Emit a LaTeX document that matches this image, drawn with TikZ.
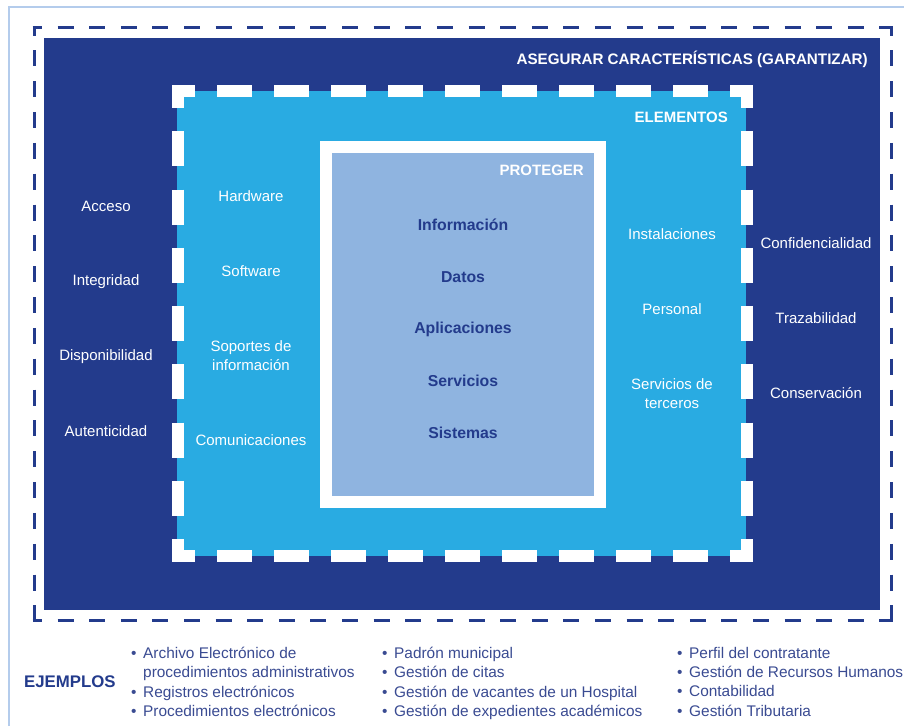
\documentclass[tikz,border=0pt]{standalone}
\usepackage{fontspec}
\setmainfont{Liberation Sans}
\definecolor{navy}{HTML}{233B8C}
\definecolor{sky}{HTML}{29ABE2}
\definecolor{pale}{HTML}{8FB4E0}
\definecolor{frameline}{HTML}{B4CCEC}
\definecolor{listtext}{HTML}{3A4B92}
\newcommand{\bul}{\makebox[12pt][l]{•}}
\tikzset{
  wlabel/.style={text=white,font=\fontsize{15}{19}\selectfont,align=center,inner sep=0pt},
  wtitle/.style={text=white,font=\bfseries\fontsize{15}{18}\selectfont,inner sep=0pt},
  dlabel/.style={text=navy,font=\bfseries\fontsize{15.8}{18}\selectfont,inner sep=0pt},
  exlist/.style={text=listtext,font=\fontsize{15.4}{19.3}\selectfont,align=left,anchor=north west,inner sep=0pt},
  outerh/.style={draw=navy,line width=3pt,dash pattern=on 16pt off 15.61pt,dash phase=6.5pt},
  outerv/.style={draw=navy,line width=3pt,dash pattern=on 16pt off 14.84pt,dash phase=6.5pt},
  innerh/.style={draw=white,line width=12pt,dash pattern=on 35pt off 22pt,dash phase=12pt},
  innerv/.style={draw=white,line width=12pt,dash pattern=on 35pt off 23.25pt,dash phase=12pt}
}
\begin{document}
\begin{tikzpicture}[x=1pt,y=-1pt]
\useasboundingbox (0,0) rectangle (904,726);
\fill[white] (0,0) rectangle (904,726);
\draw[frameline,line width=2pt] (8.5,726) -- (8.5,6.5) -- (904,6.5);
\fill[navy] (44,38) rectangle (880,610);
\draw[outerh] (32.5,27.5) -- (892.5,27.5);
\draw[outerh] (32.5,620) -- (892.5,620);
\draw[outerv] (34,26) -- (34,621.5);
\draw[outerv] (891,26) -- (891,621.5);
\fill[sky] (177,91) rectangle (746,556);
\draw[innerh] (172,91) -- (753,91);
\draw[innerh] (172,556) -- (753,556);
\draw[innerv] (178,85) -- (178,562);
\draw[innerv] (747,85) -- (747,562);
\draw[white,line width=12pt,fill=pale] (326,147) rectangle (600,502);
\node[wtitle,font=\bfseries\fontsize{15.2}{18}\selectfont,anchor=east] (t1) at (868,59) {ASEGURAR CARACTERÍSTICAS (GARANTIZAR)};
\node[wtitle,anchor=east] (t2) at (728,117) {ELEMENTOS};
\node[wtitle,anchor=east] (t3) at (584,170) {PROTEGER};
\node[wlabel] (a1) at (106,206.5) {Acceso};
\node[wlabel] (a2) at (106,281.5) {Integridad};
\node[wlabel] (a3) at (106,356.5) {Disponibilidad};
\node[wlabel] (a4) at (106,431.5) {Autenticidad};
\node[wlabel] (b1) at (251,196.5) {Hardware};
\node[wlabel] (b2) at (251,271.5) {Software};
\node[wlabel] (b3) at (251,356) {Soportes de\\información};
\node[wlabel] (b4) at (251,440.5) {Comunicaciones};
\node[dlabel] (c1) at (463,225) {Información};
\node[dlabel] (c2) at (463,277) {Datos};
\node[dlabel] (c3) at (463,329) {Aplicaciones};
\node[dlabel] (c4) at (463,381) {Servicios};
\node[dlabel] (c5) at (463,433) {Sistemas};
\node[wlabel] (d1) at (672,234.5) {Instalaciones};
\node[wlabel] (d2) at (672,309.5) {Personal};
\node[wlabel] (d3) at (672,394) {Servicios de\\terceros};
\node[wlabel] (e1) at (816,243.5) {Confidencialidad};
\node[wlabel] (e2) at (816,318.5) {Trazabilidad};
\node[wlabel] (e3) at (816,393.5) {Conservación};
\node[text=navy,font=\bfseries\fontsize{16.8}{20}\selectfont,anchor=west,inner sep=0pt] (ej) at (24,682) {EJEMPLOS};
\node[exlist] (l1) at (131,647) {\bul Archivo Electrónico de\\\hspace*{12pt}procedimientos administrativos\\\bul Registros electrónicos\\\bul Procedimientos electrónicos};
\node[exlist] (l2) at (382,647) {\bul Padrón municipal\\\bul Gestión de citas\\\bul Gestión de vacantes de un Hospital\\\bul Gestión de expedientes académicos};
\node[exlist] (l3) at (677,647) {\bul Perfil del contratante\\\bul Gestión de Recursos Humanos\\\bul Contabilidad\\\bul Gestión Tributaria};
\end{tikzpicture}
\end{document}
